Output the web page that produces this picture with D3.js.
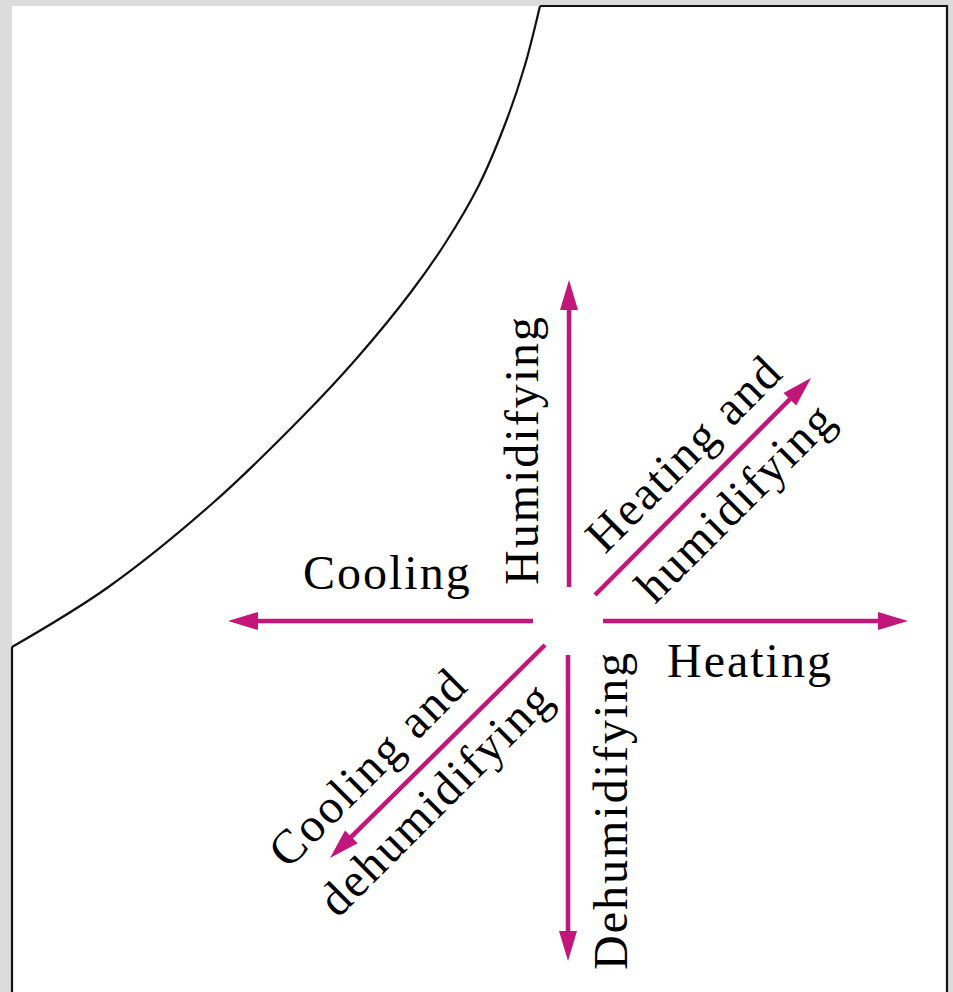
<!DOCTYPE html>
<html lang="en">
<head>
    <meta charset="UTF-8">
    <title>Psychrometric processes</title>
    <script src="https://d3js.org/d3.v7.min.js"></script>
    <style>
        html, body { margin: 0; padding: 0; background: #dcdcdc; }
        svg { display: block; }
    </style>
</head>
    <body>
        <script>
            // saturation curve, chart units (x right, y up)
            const curveX = [0, 9.5, 20.2, 29.2, 34.5, 39.9, 43.4, 46.7, 49.5, 51.3, 52.8]
            const curveY = [34.5, 40.4, 49.0, 57.7, 63.4, 70.0, 75.0, 80.7, 87.3, 92.7, 98.6]

            // process arrows: start and tip
            const processes = ['Humidifying', 'Dehumidifying', 'Cooling', 'Heating', 'Heating and humidifying', 'Cooling and dehumidifying']
            const fromX = [55.7, 55.6, 52.1, 59.1, 58.3, 53.3]
            const fromY = [40.5, 33.7, 37.1, 37.1, 39.7, 34.7]
            const toX = [55.7, 55.6, 21.6, 89.6, 79.9, 31.8]
            const toY = [71.2, 3.1, 37.1, 37.1, 61.4, 13.4]

            // labels
            const labelText = ['Cooling', 'Heating', 'Humidifying', 'Dehumidifying', 'Heating and', 'humidifying', 'Cooling and', 'dehumidifying']
            const labelX = [29.1, 65.5, 52.6, 61.5, 59.3, 64.3, 27.6, 32.6]
            const labelY = [40.3, 31.5, 40.7, 2.2, 43.7, 38.7, 12.2, 7.3]
            const labelAngle = [0, 0, -90, -90, -45, -45, -45, -45]

            let width = 953
            let height = 992
            let box = { left: 12, right: 947, top: 6, bottom: 992 }

            let xScale = d3.scaleLinear().domain([0, 93.5]).range([box.left, box.right])
            let yScale = d3.scaleLinear().domain([0, 98.6]).range([box.bottom, box.top])

            let svg = d3.select('body').append('svg').attr('width', width).attr('height', height)

            svg.append('rect')
                .attr('x', box.left)
                .attr('y', box.top)
                .attr('width', box.right - box.left)
                .attr('height', box.bottom - box.top)
                .style('fill', '#fff')

            let straight = d3.line()
                .x(d => xScale(d[0]))
                .y(d => yScale(d[1]))

            let smooth = d3.line()
                .x(d => xScale(d[0]))
                .y(d => yScale(d[1]))
                .curve(d3.curveCatmullRom.alpha(0.5))

            let pts = curveX.map((x, i) => [x, curveY[i]])
            let last = pts[pts.length - 1]

            // left edge below the curve
            svg.append('path')
                .attr('d', straight([[0, 0], pts[0]]))
                .attr('class', 'edge')
            // saturation curve
            svg.append('path')
                .attr('d', smooth(pts))
                .attr('class', 'edge')
            // top and right edge
            svg.append('path')
                .attr('d', straight([last, [93.5, 98.6], [93.5, 0]]))
                .attr('class', 'edge')

            svg.selectAll('.edge')
                .style('fill', 'none')
                .style('stroke', '#111')
                .style('stroke-width', 2.2)
                .style('stroke-linejoin', 'miter')

            const pink = '#c2167a'
            let head = 30, half = 9

            let arrows = processes.map((p, i) => {
                let x0 = xScale(fromX[i]), y0 = yScale(fromY[i])
                let x1 = xScale(toX[i]), y1 = yScale(toY[i])
                let len = Math.hypot(x1 - x0, y1 - y0)
                let ux = (x1 - x0) / len, uy = (y1 - y0) / len
                return { name: p, x0, y0, x1, y1, ux, uy }
            })

            let g = svg.append('g').attr('class', 'arrows')

            g.selectAll('line')
                .data(arrows)
                .join('line')
                .attr('x1', d => d.x0)
                .attr('y1', d => d.y0)
                .attr('x2', d => d.x1 - d.ux * (head - 4))
                .attr('y2', d => d.y1 - d.uy * (head - 4))
                .style('stroke', pink)
                .style('stroke-width', 4.5)

            g.selectAll('path')
                .data(arrows)
                .join('path')
                .attr('d', d => {
                    let bx = d.x1 - d.ux * head, by = d.y1 - d.uy * head
                    return `M${d.x1},${d.y1}L${bx - d.uy * half},${by + d.ux * half}L${bx + d.uy * half},${by - d.ux * half}Z`
                })
                .style('fill', pink)

            svg.append('g')
                .attr('class', 'labels')
                .selectAll('text')
                .data(labelText)
                .join('text')
                .attr('transform', (d, i) => `translate(${xScale(labelX[i])},${yScale(labelY[i])}) rotate(${labelAngle[i]})`)
                .text(d => d)
                .style('font-family', '"Liberation Serif", "DejaVu Serif", serif')
                .style('font-size', '48px')
                .style('letter-spacing', '2px')
                .style('fill', '#000')
        </script>
    </body>
</html>
